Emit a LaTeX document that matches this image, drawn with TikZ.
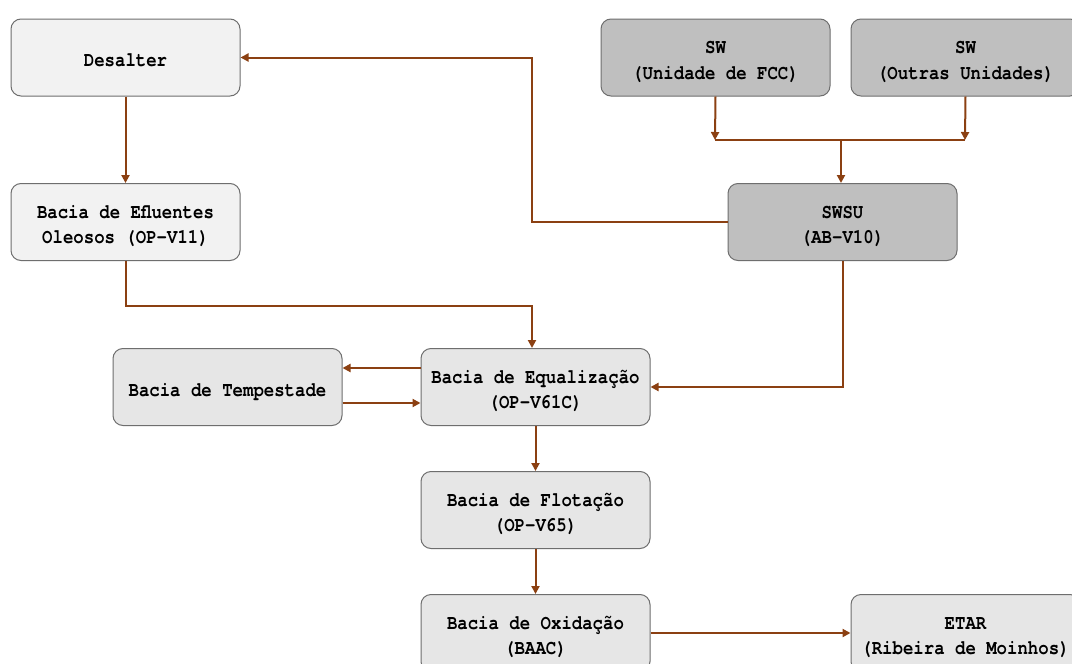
\documentclass[tikz,border=0pt]{standalone}
\usepackage{fontspec}
\setmonofont[FakeStretch=0.845]{TeX Gyre Cursor}
\usetikzlibrary{arrows.meta}
\definecolor{arr}{RGB}{139,64,18}
\definecolor{lt}{RGB}{242,242,242}
\definecolor{md}{RGB}{230,230,230}
\definecolor{dk}{RGB}{191,191,191}
\definecolor{bd}{RGB}{110,110,110}
\newcommand\boxtext[1]{\vbox{\vskip 6.2pt\hbox{\begin{tabular}{@{}c@{}}#1\end{tabular}}}}
\begin{document}
\begin{tikzpicture}[x=0.75pt,y=-0.75pt,
  box/.style={draw=bd, line width=0.75pt, rounded corners=7.5pt, minimum width=171.75pt, minimum height=57.75pt, inner sep=0pt,
    font=\ttfamily\bfseries\fontsize{15.4}{19.1}\selectfont},
  line/.style={draw=arr, line width=1.5pt},
  flow/.style={line, -{Triangle[length=6pt,width=6pt]}}]
\clip (0,0) rectangle (1072,664);
\fill[white] (0,0) rectangle (1072,664);
\node[box, fill=lt] (des) at (125.5,57.5) {\boxtext{Desalter}};
\node[box, fill=lt] (efl) at (125.5,222) {\boxtext{Bacia de Efluentes\\Oleosos (OP-V11)}};
\node[box, fill=dk] (fcc) at (715.5,57.5) {\boxtext{SW\\(Unidade de FCC)}};
\node[box, fill=dk] (out) at (965.5,57.5) {\boxtext{SW\\(Outras Unidades)}};
\node[box, fill=dk] (swsu) at (842.5,222) {\boxtext{SWSU\\(AB-V10)}};
\node[box, fill=md] (tem) at (227.5,387) {\boxtext{Bacia de Tempestade}};
\node[box, fill=md] (equ) at (535.5,387) {\boxtext{Bacia de Equalização\\(OP-V61C)}};
\node[box, fill=md] (flo) at (535.5,510) {\boxtext{Bacia de Flotação\\(OP-V65)}};
\node[box, fill=md] (oxi) at (535.5,633) {\boxtext{Bacia de Oxidação\\(BAAC)}};
\node[box, fill=md] (eta) at (965.5,633) {\boxtext{ETAR\\(Ribeira de Moinhos)}};
\coordinate (j1) at (715,140);
\coordinate (j2) at (965,140);
\coordinate (jm) at (841,140);
\coordinate (k1) at (532,222);
\coordinate (k3) at (532,306);
\draw[flow] (des.south) -- (efl.north);
\draw[flow] (swsu.west) -- (k1) |- (des.east);
\draw[flow] (fcc.south) -- (j1);
\draw[flow] (out.south) -- (j2);
\draw[line] (j1) -- (j2);
\draw[flow] (jm) -- (jm |- swsu.north);
\draw[flow] (efl.south) |- (k3) -- (k3 |- equ.north);
\draw[flow] (swsu.south) |- (equ.east);
\draw[flow] (equ.west |- 0,368) -- (tem.east |- 0,368);
\draw[flow] (tem.east |- 0,403) -- (equ.west |- 0,403);
\draw[flow] (equ.south) -- (flo.north);
\draw[flow] (flo.south) -- (oxi.north);
\draw[flow] (oxi.east) -- (eta.west);
\end{tikzpicture}
\end{document}
